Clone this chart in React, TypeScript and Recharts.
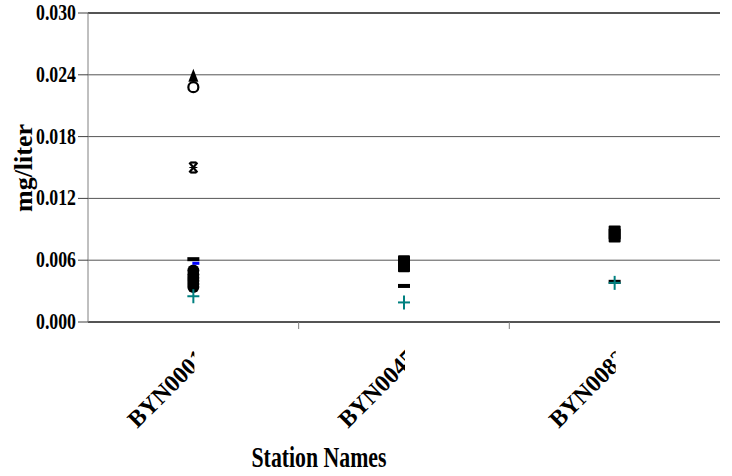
import React from "react";
import {
  ComposedChart,
  Line,
  XAxis,
  YAxis,
  CartesianGrid,
  ReferenceLine,
} from "recharts";

// station names on the x axis
const stations = ["BYN0001", "BYN0045", "BYN0083"];

// y axis ticks (mg/liter)
const yTicks = [0, 0.006, 0.012, 0.018, 0.024, 0.03];

// measured values per marker series, one entry per station
const triangleVals = [0.0238, null, null];
const openCircleVals = [0.0228, null, null];
const starVals = [0.015, null, null];
const blobVals1 = [0.005, null, null];
const blobVals2 = [0.0046, null, null];
const blobVals3 = [0.0043, null, null];
const blobVals4 = [0.004, null, null];
const blobVals5 = [0.0037, null, null];
const blobVals6 = [0.0034, null, null];
const squareVals = [null, 0.0058, 0.0087];
const squareVals2 = [null, 0.0055, 0.0084];
const dashVals = [0.0061, 0.0035, 0.0039];
const blueVals = [0.0057, null, null];
const plusVals = [0.0025, 0.0019, 0.0038];

const FONT = '"Liberation Serif", "Times New Roman", serif';
const TEAL = "#008080";

const data = stations.map((station, i) => ({
  station,
  triangle: triangleVals[i],
  openCircle: openCircleVals[i],
  star: starVals[i],
  blob1: blobVals1[i],
  blob2: blobVals2[i],
  blob3: blobVals3[i],
  blob4: blobVals4[i],
  blob5: blobVals5[i],
  blob6: blobVals6[i],
  square: squareVals[i],
  square2: squareVals2[i],
  dash: dashVals[i],
  blue: blueVals[i],
  plus: plusVals[i],
}));

type Kind =
  | "triangle"
  | "openCircle"
  | "star"
  | "dot"
  | "square"
  | "dash"
  | "blue"
  | "plus";

// series key -> marker look
const series: { key: string; kind: Kind }[] = [
  { key: "triangle", kind: "triangle" },
  { key: "openCircle", kind: "openCircle" },
  { key: "star", kind: "star" },
  { key: "blob1", kind: "dot" },
  { key: "blob2", kind: "dot" },
  { key: "blob3", kind: "dot" },
  { key: "blob4", kind: "dot" },
  { key: "blob5", kind: "dot" },
  { key: "blob6", kind: "dot" },
  { key: "square", kind: "square" },
  { key: "square2", kind: "square" },
  { key: "dash", kind: "dash" },
  { key: "blue", kind: "blue" },
  { key: "plus", kind: "plus" },
];

function marker(kind: Kind) {
  // eslint-disable-next-line @typescript-eslint/no-explicit-any
  return (p: any) => {
    const { cx, cy, value, index } = p;
    const k = `${kind}-${index}`;
    if (value == null || cy == null || Number.isNaN(cy)) return <g key={k} />;
    switch (kind) {
      case "triangle":
        return (
          <path
            key={k}
            d={`M${cx},${cy - 8} L${cx + 5},${cy + 5} L${cx - 5},${cy + 5} Z`}
            fill="#000"
          />
        );
      case "openCircle":
        return (
          <circle key={k} cx={cx} cy={cy} r={5} fill="#fff" stroke="#000" strokeWidth={2.2} />
        );
      case "star":
        return (
          <g key={k} stroke="#000" strokeWidth={2.2}>
            <line x1={cx - 4} y1={cy - 5} x2={cx + 4} y2={cy + 5} />
            <line x1={cx + 4} y1={cy - 5} x2={cx - 4} y2={cy + 5} />
            <line x1={cx - 3} y1={cy - 5} x2={cx + 3} y2={cy - 5} />
            <line x1={cx - 3} y1={cy + 5} x2={cx + 3} y2={cy + 5} />
            <line x1={cx - 4} y1={cy} x2={cx + 4} y2={cy} strokeWidth={1} />
          </g>
        );
      case "dot":
        return <ellipse key={k} cx={cx} cy={cy} rx={6} ry={6} fill="#000" />;
      case "square":
        return <rect key={k} x={cx - 6} y={cy - 7} width={12} height={14} rx={1} fill="#000" />;
      case "dash":
        return <rect key={k} x={cx - 6} y={cy - 2} width={12} height={4} fill="#000" />;
      case "blue":
        return <rect key={k} x={cx - 1} y={cy - 1.5} width={7} height={3} fill="#0000ff" />;
      case "plus":
        return (
          <g key={k} stroke={TEAL} strokeWidth={2}>
            <line x1={cx - 6} y1={cy} x2={cx + 6} y2={cy} />
            <line x1={cx} y1={cy - 7} x2={cx} y2={cy + 7} />
          </g>
        );
    }
  };
}

// eslint-disable-next-line @typescript-eslint/no-explicit-any
function YTick({ x, y, payload }: any) {
  return (
    <text
      x={x}
      y={y}
      dy={7}
      textAnchor="end"
      fontFamily={FONT}
      fontWeight="bold"
      fontSize={24}
      textLength={40}
      lengthAdjust="spacingAndGlyphs"
      fill="#000"
    >
      {Number(payload.value).toFixed(3)}
    </text>
  );
}

const BAND = 210.7;

// eslint-disable-next-line @typescript-eslint/no-explicit-any
function StationTick({ x, y, payload, index }: any) {
  const id = `clip-st-${index}`;
  return (
    <g>
      {index > 0 && (
        <line x1={x - BAND / 2} x2={x - BAND / 2} y1={y} y2={y + 7} stroke="#808080" />
      )}
      <clipPath id={id}>
        <rect x={x - 120} y={y + 10} width={121} height={130} />
      </clipPath>
      <g clipPath={`url(#${id})`}>
        <text
          transform={`translate(${x - 56},${y + 107}) rotate(-45)`}
          fontFamily={FONT}
          fontWeight="bold"
          fontSize={24}
          fill="#000"
        >
          {payload.value}
        </text>
      </g>
    </g>
  );
}

export default function App() {
  return (
    <div style={{ position: "absolute", left: 0, top: 0, background: "#fff" }}>
      <ComposedChart
        width={732}
        height={476}
        data={data}
        margin={{ top: 13, right: 12, left: 0, bottom: 0 }}
      >
        <CartesianGrid vertical={false} stroke="#555" />
        <XAxis
          dataKey="station"
          height={154}
          stroke="#000"
          padding={{ left: BAND / 2, right: BAND / 2 }}
          tickLine={false}
          tickSize={0}
          tickMargin={0}
          interval={0}
          tick={<StationTick />}
          label={{
            content: () => (
              <text
                x={319}
                y={467}
                textAnchor="middle"
                fontFamily={FONT}
                fontWeight="bold"
                fontSize={30}
                textLength={135}
                lengthAdjust="spacingAndGlyphs"
                fill="#000"
              >
                Station Names
              </text>
            ),
          }}
        />
        <YAxis
          width={88}
          domain={[0, 0.03]}
          ticks={yTicks}
          stroke="#808080"
          tickSize={10}
          tickMargin={2}
          tickLine={{ stroke: "#404040" }}
          tick={<YTick />}
          label={{
            content: () => (
              <text
                transform="translate(32,168) rotate(-90)"
                textAnchor="middle"
                fontFamily={FONT}
                fontWeight="bold"
                fontSize={26}
                fill="#000"
              >
                mg/liter
              </text>
            ),
          }}
        />
        <ReferenceLine y={0.03} stroke="#000" />
        {series.map((s) => (
          <Line
            key={s.key}
            dataKey={s.key}
            stroke="none"
            isAnimationActive={false}
            activeDot={false}
            legendType="none"
            dot={marker(s.kind)}
          />
        ))}
      </ComposedChart>
    </div>
  );
}
